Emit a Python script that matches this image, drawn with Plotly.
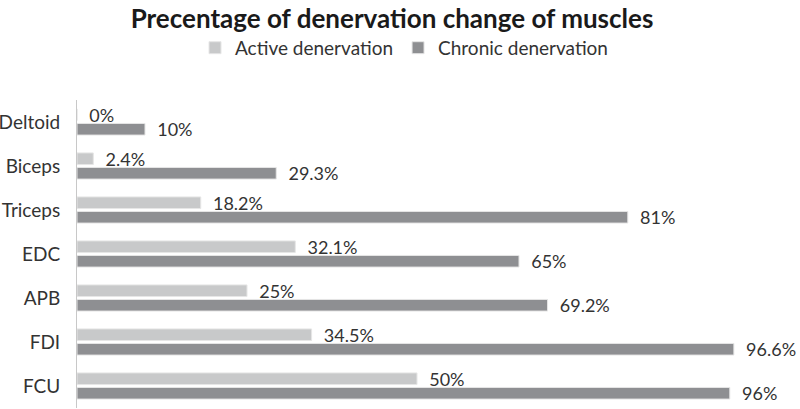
import plotly.graph_objects as go

MUSCLES = ["Deltoid", "Biceps", "Triceps", "EDC", "APB", "FDI", "FCU"]
ACTIVE = [0, 2.4, 18.2, 32.1, 25, 34.5, 50]
CHRONIC = [10, 29.3, 81, 65, 69.2, 96.6, 96]
SERIES_NAMES = ["Active denervation", "Chronic denervation"]

COLORS = {
    "Active denervation": "#c8c9ca",
    "Chronic denervation": "#8e8f92",
}

FONT = "Lato"
PAD = "\u00a0\u00a0"

fig = go.Figure()
for name, values in zip(SERIES_NAMES, [ACTIVE, CHRONIC]):
    fig.add_trace(
        go.Bar(
            name=name,
            y=MUSCLES,
            x=values,
            orientation="h",
            marker=dict(color=COLORS[name], line=dict(color="#e6e6e6", width=1)),
            text=[f"{PAD}{v:g}%" for v in values],
            textposition="outside",
            constraintext="none",
            textfont=dict(family=FONT, size=18, color="#333333"),
            cliponaxis=False,
        )
    )

fig.update_layout(
    width=800,
    height=409,
    margin=dict(l=77, r=43, t=100, b=1, autoexpand=False),
    paper_bgcolor="white",
    plot_bgcolor="white",
    barmode="group",
    bargap=0.34,
    bargroupgap=0.2,
    font=dict(family=FONT, color="#333333"),
    title=dict(
        text="<b>Precentage of denervation change of muscles</b>",
        font=dict(family=FONT, size=26, color="#1a1a1a"),
        x=0.49,
        xanchor="center",
        y=0.955,
        yanchor="middle",
    ),
    legend=dict(
        orientation="h",
        xref="container",
        yref="container",
        x=0.505,
        xanchor="center",
        y=0.883,
        yanchor="middle",
        font=dict(family=FONT, size=19, color="#333333"),
        itemwidth=30,
    ),
    showlegend=True,
)

fig.update_xaxes(range=[0, 100], visible=False)
fig.update_yaxes(
    autorange="reversed",
    automargin=False,
    showline=True,
    linecolor="#c8c8c8",
    linewidth=1,
    showgrid=False,
    ticks="",
    ticklabelstandoff=12,
    tickfont=dict(family=FONT, size=19, color="#333333"),
)

# the page's default body margin would push the 800x409 figure off the window
fig.write_html(
    "out.html",
    config={"displayModeBar": False},
    post_script="document.body.style.margin = '0';",
)
